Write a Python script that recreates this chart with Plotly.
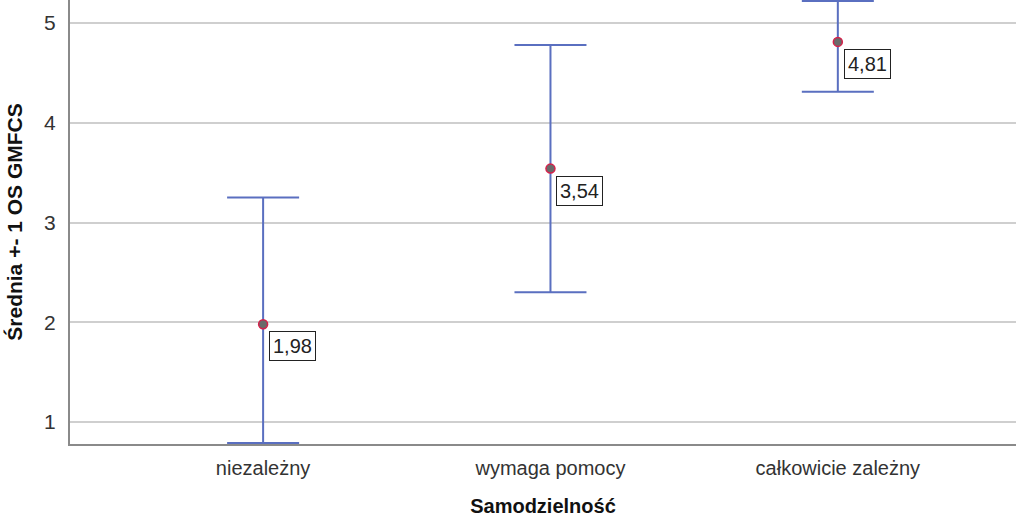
import plotly.graph_objects as go

categories = ["niezależny", "wymaga pomocy", "całkowicie zależny"]
means = [1.98, 3.54, 4.81]
lower = [0.79, 2.30, 4.31]
upper = [3.25, 4.78, 5.22]
mean_labels = ["1,98", "3,54", "4,81"]
y_ticks = [1, 2, 3, 4, 5]

x_pos = list(range(len(categories)))
err_plus = [u - m for u, m in zip(upper, means)]
err_minus = [m - l for m, l in zip(means, lower)]

fig = go.Figure()
fig.add_trace(go.Scatter(
    x=x_pos, y=means, mode="markers",
    marker=dict(size=9, color="#6a6a6a", line=dict(color="#d6204a", width=1.5)),
    error_y=dict(type="data", symmetric=False, array=err_plus, arrayminus=err_minus,
                 color="#5a6fc0", thickness=2, width=36),
    cliponaxis=False, showlegend=False,
))

for xp, m, lab in zip(x_pos, means, mean_labels):
    fig.add_annotation(
        x=xp, y=m, text=lab, showarrow=False,
        xanchor="left", yanchor="top", xshift=6, yshift=-7,
        font=dict(family="Arial, Liberation Sans", size=20, color="#222"),
        bordercolor="#222", borderwidth=1, borderpad=3, bgcolor="white",
    )

fig.update_layout(
    width=1016, height=517,
    margin=dict(l=70, r=0, t=0, b=73),
    plot_bgcolor="white", paper_bgcolor="white",
    font=dict(family="Arial, Liberation Sans", color="#333"),
)
fig.update_xaxes(
    range=[-0.672, 2.62], tickvals=x_pos, ticktext=categories,
    showgrid=False, showline=True, linecolor="#8a8a8a", linewidth=2,
    layer="below traces",
    ticks="", ticklabelstandoff=5, tickfont=dict(size=20, color="#333"),
    title=dict(text="<b>Samodzielność</b>", font=dict(size=20, color="#111"), standoff=25),
    zeroline=False,
)
fig.update_yaxes(
    range=[0.78, 5.23], tickvals=y_ticks, ticktext=[str(v) for v in y_ticks],
    showgrid=True, gridcolor="#cfcfcf", gridwidth=1.5,
    showline=True, linecolor="#8a8a8a", linewidth=2,
    layer="below traces",
    ticks="", ticklabelstandoff=8, tickfont=dict(size=21, color="#333"),
    title=dict(text="<b>Średnia +- 1 OS GMFCS</b>", font=dict(size=21, color="#111"), standoff=16),
    zeroline=False,
)

fig.write_html("out.html")
